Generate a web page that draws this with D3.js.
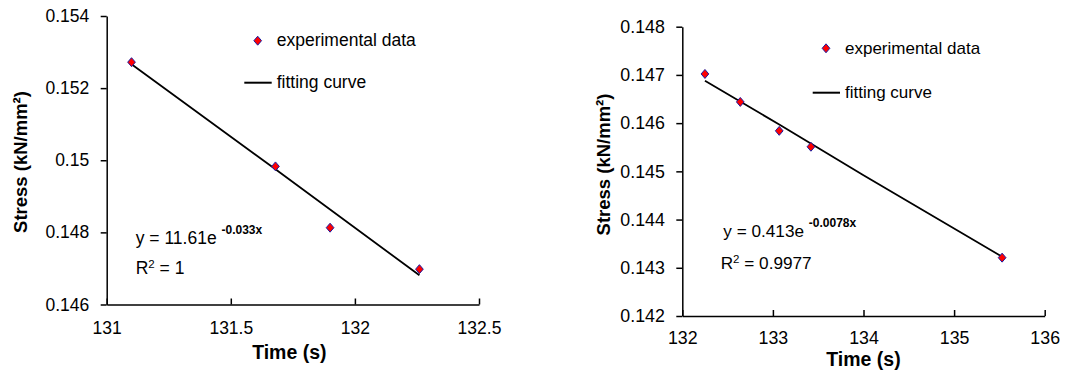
<!DOCTYPE html>
<html>
<head>
<meta charset="utf-8">
<script src="https://cdn.jsdelivr.net/npm/d3@7"></script>
<style>
  body { margin: 0; background: #fff; }
  svg { display: block; font-family: "Liberation Sans", Arial, sans-serif; }
  .domain, .tick line { stroke: #000; stroke-width: 1.5; }
</style>
</head>
<body>
<svg id="chart" width="1088" height="373"></svg>
<script>
// left panel
const leftTime = [131.10, 131.68, 131.90, 132.26];
const leftStress = [0.15272, 0.14983, 0.14813, 0.14698];
const leftFitTime = [131.10, 131.68, 132.26];
const leftFitStress = [0.15266, 0.14975, 0.14681];
const leftXTicks = [131, 131.5, 132, 132.5];
const leftYTicks = [0.146, 0.148, 0.15, 0.152, 0.154];

// right panel
const rightTime = [132.25, 132.64, 133.07, 133.42, 135.53];
const rightStress = [0.14702, 0.14644, 0.14584, 0.14551, 0.14321];
const rightFitTime = [132.25, 133.07, 134.0, 135.53];
const rightFitStress = [0.14688, 0.14597, 0.14492, 0.14323];
const rightXTicks = [132, 133, 134, 135, 136];
const rightYTicks = [0.142, 0.143, 0.144, 0.145, 0.146, 0.147, 0.148];

const svg = d3.select('#chart');

// diamond a bit wider than d3.symbolDiamond
const fatDiamond = {
  draw(ctx, size) {
    const h = Math.sqrt(size / 1.7), w = h * 0.86;
    ctx.moveTo(0, -h); ctx.lineTo(w, 0); ctx.lineTo(0, h); ctx.lineTo(-w, 0); ctx.closePath();
  }
};
const marker = d3.symbol().type(fatDiamond).size(34);

function panel(cfg) {
  const x = d3.scaleLinear().domain(cfg.xDomain).range(cfg.xRange);
  const y = d3.scaleLinear().domain(cfg.yDomain).range(cfg.yRange);
  const g = svg.append('g');
  const fs = cfg.fontSize;

  const xAxis = g.append('g')
    .attr('transform', `translate(0,${cfg.yRange[0]})`)
    .call(d3.axisBottom(x).tickValues(cfg.xTicks).tickSizeInner(-6).tickSizeOuter(0).tickFormat(d3.format('')));
  xAxis.selectAll('text').attr('y', cfg.xLabelY).attr('dy', null)
    .attr('fill', '#000').style('font-size', fs + 'px');

  const yAxis = g.append('g')
    .attr('transform', `translate(${cfg.xRange[0]},0)`)
    .call(d3.axisLeft(y).tickValues(cfg.yTicks).tickSizeInner(6).tickSizeOuter(0).tickPadding(11.5).tickFormat(d3.format('')));
  yAxis.selectAll('text').attr('fill', '#000').style('font-size', fs + 'px');

  // fitting curve
  const line = d3.line().x(d => x(d[0])).y(d => y(d[1]));
  g.append('path')
    .datum(d3.zip(cfg.fitTime, cfg.fitStress))
    .attr('d', line).attr('fill', 'none').attr('stroke', '#000').attr('stroke-width', 1.8);

  // experimental points
  g.selectAll('.pt').data(d3.zip(cfg.time, cfg.stress)).enter().append('path')
    .attr('class', 'pt')
    .attr('transform', d => `translate(${x(d[0])},${y(d[1])})`)
    .attr('d', marker).attr('fill', '#ff0000').attr('stroke', '#1a1aa0').attr('stroke-width', 1);

  // legend
  const L = cfg.legend;
  g.append('path').attr('transform', `translate(${L.markerX},${L.markerY})`)
    .attr('d', marker).attr('fill', '#ff0000').attr('stroke', '#1a1aa0').attr('stroke-width', 1);
  g.append('text').attr('x', L.textX).attr('y', L.markerY + 5.5).style('font-size', cfg.legendSize + 'px')
    .text('experimental data');
  g.append('line').attr('x1', L.lineX1).attr('x2', L.lineX2).attr('y1', L.lineY).attr('y2', L.lineY)
    .attr('stroke', '#000').attr('stroke-width', 2);
  g.append('text').attr('x', L.textX).attr('y', L.lineY + 5).style('font-size', cfg.legendSize + 'px')
    .text('fitting curve');

  // equation
  const E = cfg.eq;
  const eq = g.append('text').attr('x', E.x).attr('y', E.y1).style('font-size', cfg.eqSize + 'px');
  eq.append('tspan').text(E.main + ' ');
  eq.append('tspan').attr('dy', -10).style('font-size', '12px').style('font-weight', 'bold').text(E.exp);
  const r2 = g.append('text').attr('x', E.rx).attr('y', E.y2).style('font-size', cfg.eqSize + 'px');
  r2.append('tspan').text('R');
  r2.append('tspan').attr('dy', -6).style('font-size', '11.5px').text('2');
  r2.append('tspan').attr('dy', 6).text(' = ' + E.r2);

  // axis titles
  g.append('text').attr('x', (cfg.xRange[0] + cfg.xRange[1]) / 2 + cfg.xTitleShift).attr('y', cfg.xTitleY)
    .attr('text-anchor', 'middle').style('font-size', '19.5px').style('font-weight', 'bold').text('Time (s)');
  g.append('text')
    .attr('transform', `translate(${cfg.yTitleX},${cfg.yTitleY}) rotate(-90)`)
    .attr('text-anchor', 'middle').style('font-size', '18.5px').style('font-weight', 'bold')
    .text('Stress (kN/mm²)');
}

panel({
  xDomain: [131, 132.5], xRange: [106.7, 479],
  yDomain: [0.146, 0.154], yRange: [304.5, 16],
  xTicks: leftXTicks, yTicks: leftYTicks, fontSize: 17.5, xLabelY: 29.5,
  time: leftTime, stress: leftStress, fitTime: leftFitTime, fitStress: leftFitStress,
  legend: { markerX: 257.7, markerY: 40.7, textX: 276.7, lineX1: 244.3, lineX2: 271.7, lineY: 82.7 },
  legendSize: 17.5,
  eq: { x: 135.7, y1: 243.5, main: 'y = 11.61e', exp: '-0.033x', rx: 135.7, y2: 273.5, r2: '1' },
  eqSize: 17.5,
  xTitleShift: -3.5, xTitleY: 359, yTitleX: 27, yTitleY: 162
});

panel({
  xDomain: [132, 136], xRange: [682.3, 1044.7],
  yDomain: [0.142, 0.148], yRange: [316, 26.7],
  xTicks: rightXTicks, yTicks: rightYTicks, fontSize: 17.8, xLabelY: 28,
  time: rightTime, stress: rightStress, fitTime: rightFitTime, fitStress: rightFitStress,
  legend: { markerX: 826, markerY: 48.3, textX: 845, lineX1: 812.7, lineX2: 840, lineY: 92.7 },
  legendSize: 17,
  eq: { x: 723.3, y1: 236.5, main: 'y = 0.413e', exp: '-0.0078x', rx: 720.7, y2: 268.5, r2: '0.9977' },
  eqSize: 17.2,
  xTitleShift: 0, xTitleY: 366, yTitleX: 610, yTitleY: 164.5
});
</script>
</body>
</html>
